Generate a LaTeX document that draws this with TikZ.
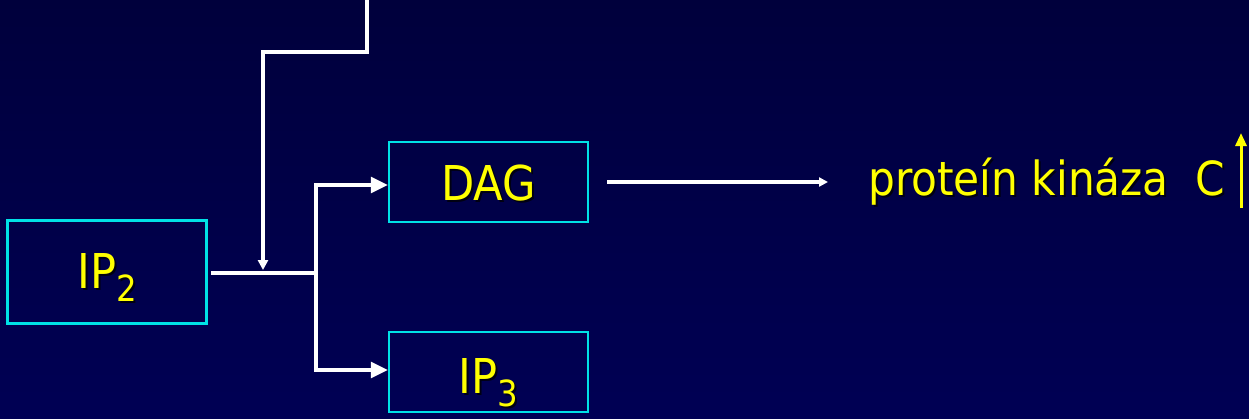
\documentclass[tikz,border=0pt]{standalone}
\usepackage{fontspec}
\setmainfont{DejaVu Sans Condensed}
\usetikzlibrary{arrows.meta}

\definecolor{bgtop}{RGB}{0,0,60}
\definecolor{bgbot}{RGB}{0,0,84}
\definecolor{boxline}{RGB}{0,225,230}
\definecolor{labelyellow}{RGB}{255,255,0}
\definecolor{shadowcol}{RGB}{0,0,18}

% yellow text with a small dark drop shadow
\newcommand\shd[1]{\leavevmode\rlap{\hspace{2pt}\raisebox{-2pt}{\textcolor{shadowcol}{#1}}}\textcolor{labelyellow}{#1}}
% lowered, smaller digit for subscripts
\newcommand\subdig[1]{\raisebox{-13pt}{\fontsize{36}{36}\selectfont #1}}

\tikzset{
  stagebox/.style={draw=boxline, line width=2.5pt, fill=none,
    minimum width=199pt, inner sep=0pt, text depth=0pt,
    font=\fontsize{48}{48}\selectfont},
  flow/.style={draw=white, line width=3.2pt},
  bigtip/.style={flow, -{Triangle[length=17pt,width=16pt]}},
  smalltip/.style={flow, -{Triangle[length=10pt,width=10pt]}},
  uptip/.style={draw=labelyellow, line width=3pt, -{Triangle[length=13pt,width=11pt]}},
}

\begin{document}
\begin{tikzpicture}[x=1pt,y=-1pt]
  % background
  \shade[top color=bgtop, bottom color=bgbot] (0,0) rectangle (1249,418);
  \useasboundingbox (0,0) rectangle (1249,418);

  % boxes (text height sets where the baseline sits inside each box)
  \node[stagebox, minimum height=103pt, text height=32pt] (ip2) at (107,272) {\shd{IP\subdig{2}}};
  \node[stagebox, minimum height=80pt, text height=36pt] (dag) at (488.5,182) {\shd{DAG}};
  \node[stagebox, minimum height=80pt, text height=42pt] (ip3) at (488.5,372) {\shd{IP\subdig{3}}};

  % result label
  \node[anchor=base west, inner sep=0pt, font=\fontsize{47}{47}\selectfont]
    (pkc) at (868,195) {\shd{proteín kináza\ \ C}};

  % junction points
  \coordinate (top) at (367,0);
  \coordinate (bendA) at (367,52);
  \coordinate (bendB) at (263,52);
  \coordinate (drop) at (263,270);
  \coordinate (split) at (316,273);
  \coordinate (upper) at (316,185);
  \coordinate (lower) at (316,370);

  % incoming line from above
  \draw[smalltip, line join=miter] (top) -- (bendA) -- (bendB) -- (drop);

  % IP2 to the branch point
  \draw[flow] ([xshift=3pt]ip2.east |- split) -- (split);

  % branches to DAG and IP3
  \draw[bigtip, line join=miter] (split) -- (upper) -- (upper -| dag.west);
  \draw[bigtip, line join=miter] (split) -- (lower) -- (lower -| ip3.west);

  % DAG to protein kinase C
  \draw[flow, line width=3.5pt, -{Triangle[length=9pt,width=9pt]}]
    ([xshift=18pt]dag.east) -- ([xshift=-40pt]dag.east -| pkc.west);

  % upward arrow after the label
  \coordinate (upfoot) at (1241,208);
  \coordinate (uphead) at (1241,133);
  \draw[uptip] (upfoot) -- (uphead);
\end{tikzpicture}
\end{document}
